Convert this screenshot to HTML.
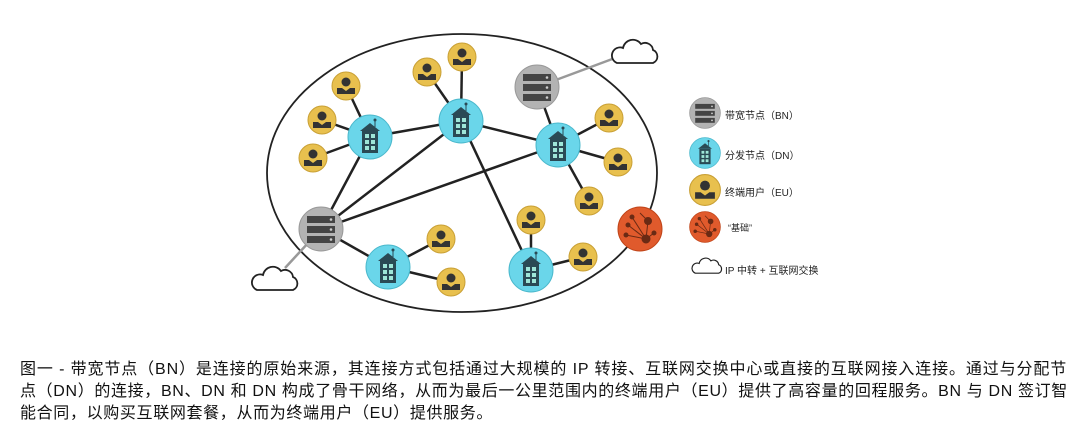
<!DOCTYPE html>
<html><head><meta charset="utf-8"><style>
body{margin:0;width:1083px;height:432px;background:#fff;overflow:hidden;position:relative;font-family:"Liberation Sans","Noto Sans CJK SC",sans-serif;}
.cap{position:absolute;left:20px;font-size:16px;color:#111;white-space:nowrap;line-height:22px;}
.lg{position:absolute;left:725px;font-size:10px;color:#222;white-space:nowrap;}
</style></head><body>
<svg width="1083" height="340" style="position:absolute;left:0;top:0">
<defs>
<g id="eu"><circle r="14" fill="#e8c04e" stroke="#c9a035" stroke-width="1"/><circle cy="-4" r="4.5" fill="#333"/><path d="M-9 8 v-6 h5 l4 3 l4 -3 h5 v6 z" fill="#333"/></g>
<g id="dn"><circle r="22" fill="#6ad6ea" stroke="#4ab8cc" stroke-width="1"/><path d="M-10 -6 l10 -8 l10 8 z" fill="#2a4a55"/><rect x="-8" y="-6" width="16" height="22" fill="#2a4a55"/><g fill="#9ee6d8"><rect x="-5" y="-3" width="4" height="4"/><rect x="1" y="-3" width="4" height="4"/><rect x="-5" y="3" width="4" height="4"/><rect x="1" y="3" width="4" height="4"/><rect x="-5" y="9" width="4" height="4"/><rect x="1" y="9" width="4" height="4"/></g><line x1="5" y1="-10" x2="5" y2="-17" stroke="#2a4a55"/><circle cx="5" cy="-17" r="1.5" fill="#2a4a55"/></g>
<g id="bn"><circle r="22" fill="#b3b3b3" stroke="#999" stroke-width="1"/><g fill="#444"><rect x="-14" y="-13" width="28" height="7"/><rect x="-14" y="-3" width="28" height="7"/><rect x="-14" y="7" width="28" height="7"/></g><g fill="#ccc"><circle cx="10" cy="-9.5" r="1.3"/><circle cx="10" cy="0.5" r="1.3"/><circle cx="10" cy="10.5" r="1.3"/></g></g>
<g id="cl"><path d="M-18 8 h36 a7 7 0 0 0 0 -13 a8 8 0 0 0 -12 -6 a10 10 0 0 0 -18 4 a8 8 0 0 0 -6 15 z" fill="#fff" stroke="#222" stroke-width="1.8"/></g>
<g id="rd"><circle r="22" fill="#e05a2c" stroke="#c04418"/><g stroke="#6a2a14" stroke-width="1" fill="#6a2a14"><line x1="-12" y1="-4" x2="6" y2="10"/><line x1="-8" y1="-12" x2="6" y2="10"/><line x1="8" y1="-8" x2="6" y2="10"/><line x1="-14" y1="6" x2="6" y2="10"/><line x1="14" y1="4" x2="6" y2="10"/><line x1="0" y1="-16" x2="8" y2="-8"/><circle cx="6" cy="10" r="4"/><circle cx="8" cy="-8" r="3.5"/><circle cx="-12" cy="-4" r="2"/><circle cx="-8" cy="-12" r="2"/><circle cx="-14" cy="6" r="2"/><circle cx="14" cy="4" r="2"/></g></g>
</defs>
<ellipse cx="462" cy="173" rx="195" ry="139" fill="none" stroke="#222" stroke-width="1.8"/>
<g stroke="#999" stroke-width="2.5"><line x1="537" y1="87" x2="615" y2="58"/><line x1="321" y1="229" x2="285" y2="268"/></g>
<g stroke="#222" stroke-width="2.5">
<line x1="370" y1="137" x2="461" y2="121"/><line x1="461" y1="121" x2="558" y2="145"/>
<line x1="370" y1="137" x2="321" y2="229"/><line x1="461" y1="121" x2="321" y2="229"/>
<line x1="558" y1="145" x2="321" y2="229"/><line x1="461" y1="121" x2="531" y2="270"/>
<line x1="321" y1="229" x2="388" y2="267"/><line x1="537" y1="87" x2="558" y2="145"/>
<line x1="370" y1="137" x2="346" y2="86"/><line x1="370" y1="137" x2="322" y2="120"/><line x1="370" y1="137" x2="313" y2="158"/>
<line x1="461" y1="121" x2="427" y2="72"/><line x1="461" y1="121" x2="462" y2="57"/>
<line x1="558" y1="145" x2="609" y2="118"/><line x1="558" y1="145" x2="618" y2="162"/><line x1="558" y1="145" x2="589" y2="201"/>
<line x1="531" y1="270" x2="531" y2="220"/><line x1="531" y1="270" x2="583" y2="257"/>
<line x1="388" y1="267" x2="441" y2="239"/><line x1="388" y1="267" x2="451" y2="282"/>
</g>
<use href="#eu" x="346" y="86"/><use href="#eu" x="322" y="120"/><use href="#eu" x="313" y="158"/>
<use href="#eu" x="427" y="72"/><use href="#eu" x="462" y="57"/><use href="#eu" x="609" y="118"/>
<use href="#eu" x="618" y="162"/><use href="#eu" x="589" y="201"/><use href="#eu" x="531" y="220"/>
<use href="#eu" x="441" y="239"/><use href="#eu" x="451" y="282"/><use href="#eu" x="583" y="257"/>
<use href="#dn" x="370" y="137"/><use href="#dn" x="461" y="121"/><use href="#dn" x="558" y="145"/>
<use href="#dn" x="388" y="267"/><use href="#dn" x="531" y="270"/>
<use href="#bn" x="537" y="87"/><use href="#bn" x="321" y="229"/>
<use href="#rd" x="640" y="229"/>
<use href="#cl" x="635" y="55"/><use href="#cl" x="275" y="282"/>
<g transform="translate(705,113) scale(0.7)"><use href="#bn"/></g>
<g transform="translate(705,153) scale(0.7)"><use href="#dn"/></g>
<g transform="translate(705,190) scale(1)"><use href="#eu" transform="scale(1.1)"/></g>
<g transform="translate(705,227) scale(0.7)"><use href="#rd"/></g>
<g transform="translate(707,268) scale(0.65)"><use href="#cl"/></g>
</svg>
<div class="lg" style="top:107px">带宽节点（BN）</div>
<div class="lg" style="top:147px">分发节点（DN）</div>
<div class="lg" style="top:184px">终端用户（EU）</div>
<div class="lg" style="top:221px;left:728px;font-size:9px">“基础”</div>
<div class="lg" style="top:262px">IP 中转 + 互联网交换</div>
<div class="cap" style="top:359px;letter-spacing:0.88px">图一 - 带宽节点（BN）是连接的原始来源，其连接方式包括通过大规模的 IP 转接、互联网交换中心或直接的互联网接入连接。通过与分配节</div>
<div class="cap" style="top:381px;letter-spacing:0.65px">点（DN）的连接，BN、DN 和 DN 构成了骨干网络，从而为最后一公里范围内的终端用户（EU）提供了高容量的回程服务。BN 与 DN 签订智</div>
<div class="cap" style="top:403px;letter-spacing:0.65px">能合同，以购买互联网套餐，从而为终端用户（EU）提供服务。</div>
</body></html>
